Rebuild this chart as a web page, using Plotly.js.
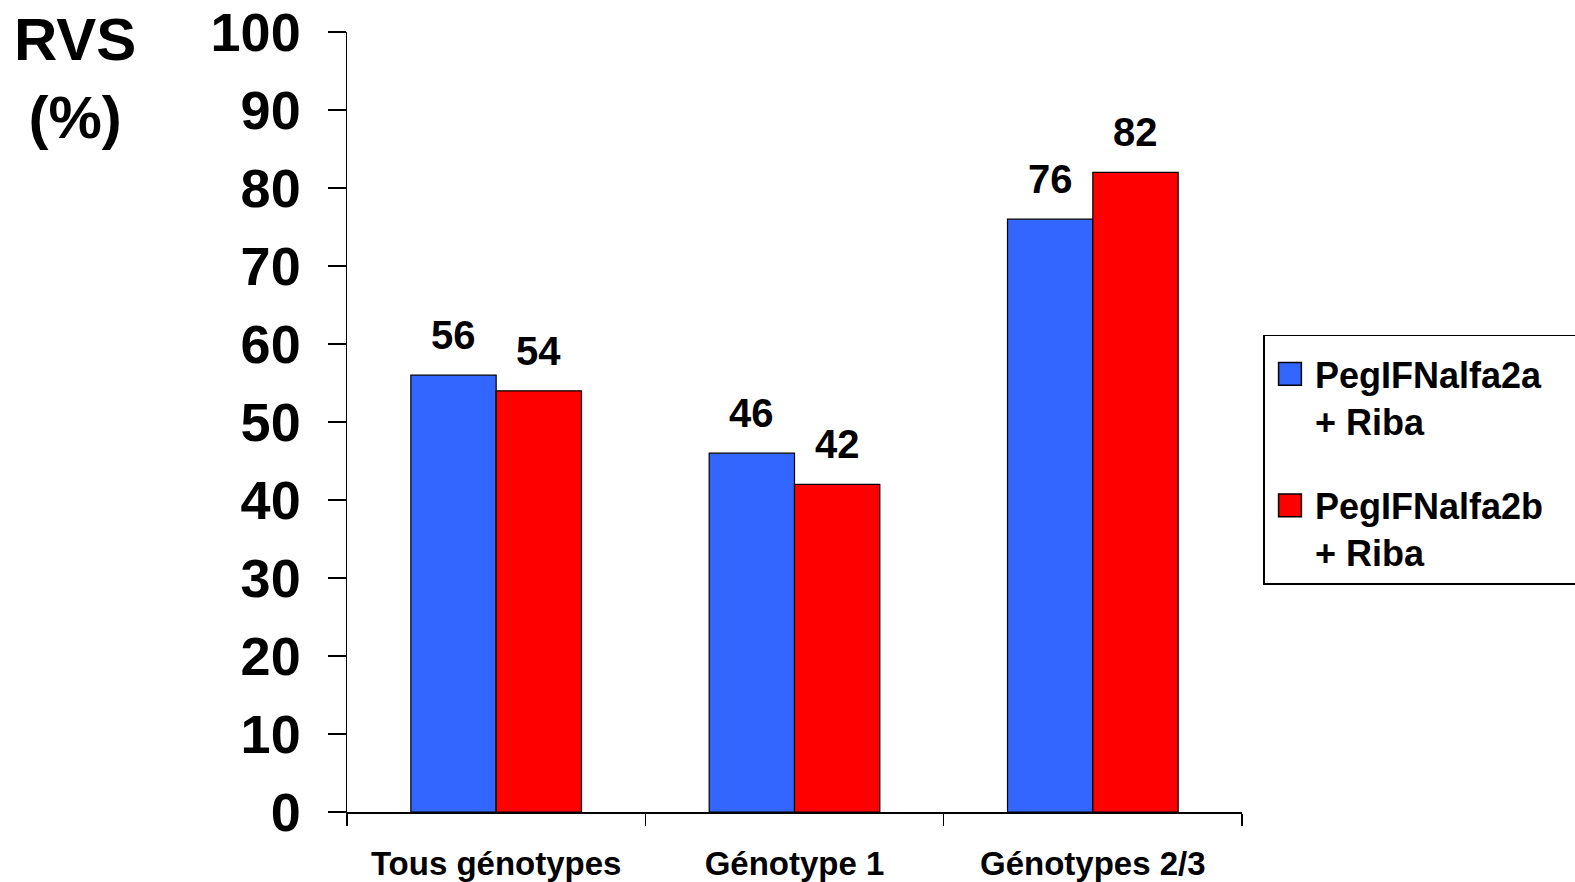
<!DOCTYPE html>
<html>
<head>
<meta charset="utf-8">
<script src="https://cdn.plot.ly/plotly-3.0.1.min.js"></script>
<style>
  html, body { margin: 0; padding: 0; background: #fff; }
  #chart { width: 1575px; height: 882px; }
</style>
</head>
<body>
<div id="chart"></div>
<script>
// Sustained virological response by genotype group
const categories = ['Tous génotypes', 'Génotype 1', 'Génotypes 2/3'];
const seriesNames = ['PegIFNalfa2a\u00a0\u00a0\u00a0<br>+ Riba', 'PegIFNalfa2b\u00a0\u00a0\u00a0<br>+ Riba'];
const alfa2a = [56, 46, 76];
const alfa2b = [54, 42, 82];
const yTicks = [0, 10, 20, 30, 40, 50, 60, 70, 80, 90, 100];

const FONT = 'Liberation Sans, Arial, Helvetica, sans-serif';

const traces = [
  {
    type: 'bar', name: seriesNames[0], x: categories, y: alfa2a,
    legendgroup: 'a',
    marker: { color: '#3366FF', line: { color: '#000', width: 1.2 } },
    hoverinfo: 'none'
  },
  {
    type: 'bar', name: seriesNames[1], x: categories, y: alfa2b,
    legendgroup: 'b',
    marker: { color: '#FF0000', line: { color: '#000', width: 1.2 } },
    hoverinfo: 'none'
  }
];

// value labels above each bar
const annotations = [];
const seriesList = [alfa2a, alfa2b];
seriesList.forEach((vals, s) => {
  vals.forEach((v, i) => {
    annotations.push({
      x: categories[i], y: v, xref: 'x', yref: 'y',
      text: String(v), showarrow: false,
      xshift: s === 0 ? -42.7 : 42.7, yshift: 40,
      xanchor: 'center', yanchor: 'middle',
      font: { family: FONT, size: 40, color: '#000', weight: 'bold' }
    });
  });
});

// axis title, set horizontally at top left
annotations.push({
  xref: 'paper', yref: 'paper', x: -0.304, y: 0.94,
  xanchor: 'center', yanchor: 'middle', align: 'center',
  text: 'RVS<br>(%)', showarrow: false,
  font: { family: FONT, size: 60, color: '#000', weight: 'bold' }
});

const layout = {
  width: 1575, height: 882,
  margin: { l: 347, r: 332.5, t: 32, b: 70, autoexpand: false },
  paper_bgcolor: '#fff', plot_bgcolor: '#fff',
  barmode: 'group', bargap: 0.428, bargroupgap: 0,
  font: { family: FONT, color: '#000' },
  showlegend: true,
  legend: {
    x: 1.024, xanchor: 'left', y: 0.612, yanchor: 'top',
    bgcolor: '#fff', bordercolor: '#000', borderwidth: 1.5,
    title: { text: '\u00a0', font: { family: FONT, size: 6 } },
    font: { family: FONT, size: 36, color: '#000', weight: 'bold' },
    traceorder: 'grouped', tracegroupgap: 35,
    itemwidth: 40, valign: 'top', itemclick: false, itemdoubleclick: false
  },
  xaxis: {
    type: 'category', range: [-0.5, 2.5],
    showline: true, linecolor: '#000', linewidth: 1.5,
    ticks: 'outside', tickson: 'boundaries', ticklen: 12, tickwidth: 1.5, tickcolor: '#000',
    tickfont: { family: FONT, size: 33, color: '#000', weight: 'bold' },
    ticklabelstandoff: 22,
    showgrid: false, zeroline: false, fixedrange: true
  },
  yaxis: {
    range: [0, 100], tickmode: 'array', tickvals: yTicks, ticktext: yTicks.map(String),
    showline: true, linecolor: '#000', linewidth: 1.5,
    ticks: 'outside', ticklen: 18, tickwidth: 1.5, tickcolor: '#000',
    tickfont: { family: FONT, size: 54, color: '#000', weight: 'bold' },
    ticklabelstandoff: 16,
    showgrid: false, zeroline: false, fixedrange: true
  },
  annotations: annotations
};

// enlarge the legend swatches, keeping their own placement
function enlargeSwatches() {
  document.querySelectorAll('#chart .legend .legendpoints path').forEach(p => {
    if (p.dataset.baseTransform === undefined) {
      p.dataset.baseTransform = p.getAttribute('transform') || '';
    }
    p.setAttribute('transform', p.dataset.baseTransform + ' scale(1.9)');
    p.style.strokeWidth = '0.8px';
  });
}

const gd = document.getElementById('chart');
Plotly.newPlot(gd, traces, layout, { displayModeBar: false, staticPlot: true }).then(() => {
  enlargeSwatches();
  gd.on('plotly_afterplot', enlargeSwatches);
});
</script>
</body>
</html>
